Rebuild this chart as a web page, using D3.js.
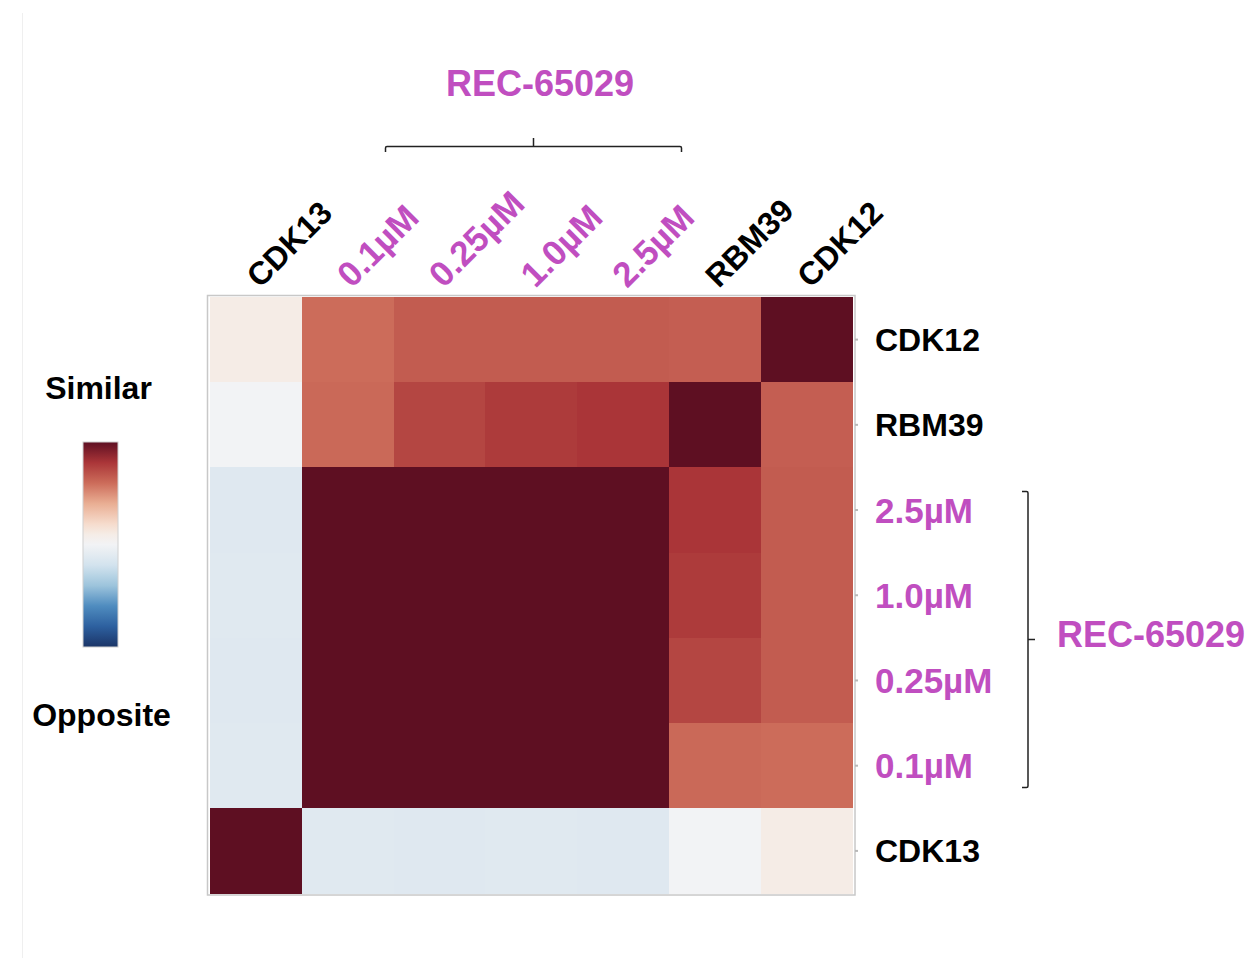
<!DOCTYPE html>
<html>
<head>
<meta charset="utf-8">
<script src="https://d3js.org/d3.v7.min.js"></script>
<style>
  body { margin: 0; background: #ffffff; }
  svg text { font-family: "Liberation Sans", Arial, Helvetica, sans-serif; font-weight: 700; }
</style>
</head>
<body>
<svg id="chart" width="1246" height="958"></svg>
<script>
// Column and row order of the similarity matrix
const colLabels = ["CDK13", "0.1µM", "0.25µM", "1.0µM", "2.5µM", "RBM39", "CDK12"];
const rowLabels = ["CDK12", "RBM39", "2.5µM", "1.0µM", "0.25µM", "0.1µM", "CDK13"];
const doseLabels = ["0.1µM", "0.25µM", "1.0µM", "2.5µM"];
const compoundName = "REC-65029";

// Similarity scores (-1 opposite .. 1 similar), one array per row, columns in colLabels order
const rowCDK12  = [ 0.10, 0.60, 0.66, 0.66, 0.66, 0.65, 1.00];
const rowRBM39  = [ 0.00, 0.61, 0.74, 0.78, 0.80, 1.00, 0.65];
const row2_5uM  = [-0.13, 1.00, 1.00, 1.00, 1.00, 0.80, 0.66];
const row1_0uM  = [-0.12, 1.00, 1.00, 1.00, 1.00, 0.78, 0.66];
const row0_25uM = [-0.13, 1.00, 1.00, 1.00, 1.00, 0.74, 0.66];
const row0_1uM  = [-0.12, 1.00, 1.00, 1.00, 1.00, 0.61, 0.60];
const rowCDK13  = [ 1.00,-0.12,-0.13,-0.12,-0.13, 0.00, 0.10];
const matrixRows = [rowCDK12, rowRBM39, row2_5uM, row1_0uM, row0_25uM, row0_1uM, rowCDK13];

// Legend end labels
const legendTop = "Similar";
const legendBottom = "Opposite";

const PINK = "#c04ec0";
const INK = "#000000";
const labelSize = d => doseLabels.includes(d) ? 35 : 32;
const labelColor = d => doseLabels.includes(d) ? PINK : INK;

const svg = d3.select("#chart");

// Faint page edge on the left
svg.append("line")
  .attr("x1", 22.5).attr("x2", 22.5).attr("y1", 13).attr("y2", 958)
  .attr("stroke", "#efefef").attr("stroke-width", 1);

// Diverging red-blue colour scale
const color = d3.scaleLinear()
  .domain([-1, -0.8, -0.6, -0.4, -0.2, -0.13, 0, 0.1, 0.2, 0.4, 0.6, 0.8, 1])
  .range(["#1b3567", "#2d609f", "#4f8cbf", "#9dc4dc", "#d3e3ee", "#dfe8f0", "#f2f3f5",
          "#f5ece6", "#f6dccd", "#e9ae93", "#cc6c5a", "#aa3538", "#5e0f22"])
  .interpolate(d3.interpolateRgb)
  .clamp(true);

// Heatmap geometry
const gridLeft = 210, gridRight = 852.5, gridTop = 297, gridBottom = 893.5;
const x = d3.scaleBand().domain(colLabels).range([gridLeft, gridRight]).padding(0);
const y = d3.scaleBand().domain(rowLabels).range([gridTop, gridBottom]).padding(0);

const cells = [];
matrixRows.forEach((vals, ri) => {
  vals.forEach((v, ci) => cells.push({ row: rowLabels[ri], col: colLabels[ci], value: v }));
});

svg.append("g").attr("class", "cells")
  .attr("shape-rendering", "crispEdges")
  .selectAll("rect")
  .data(cells)
  .join("rect")
  .attr("x", d => x(d.col))
  .attr("y", d => y(d.row))
  .attr("width", x.bandwidth() + 0.5)
  .attr("height", y.bandwidth() + 0.5)
  .attr("fill", d => color(d.value));

// Frame around the matrix
svg.append("rect")
  .attr("x", gridLeft - 2.5).attr("y", gridTop - 1.5)
  .attr("width", (gridRight - gridLeft) + 5).attr("height", (gridBottom - gridTop) + 3)
  .attr("fill", "none").attr("stroke", "#c8c8c8").attr("stroke-width", 1.5);

// Row labels on the right
const yAxis = d3.axisRight(y).tickSize(3).tickPadding(17);
const gy = svg.append("g").attr("transform", `translate(${gridRight + 2.5},0)`).call(yAxis);
gy.select(".domain").remove();
gy.attr("font-family", null).attr("font-size", null);
gy.selectAll(".tick line").attr("stroke", "#b8b8b8").attr("stroke-width", 2);
gy.selectAll(".tick text")
  .attr("font-size", labelSize)
  .attr("dy", "0.36em")
  .attr("fill", labelColor);

// Column labels on top, rotated 45 degrees and starting near each column centre
svg.append("g").attr("class", "col-labels")
  .selectAll("text")
  .data(colLabels)
  .join("text")
  .attr("transform", d => `translate(${x(d) + x.bandwidth() / 2 + 4},289) rotate(-45)`)
  .attr("font-size", labelSize)
  .attr("fill", labelColor)
  .text(d => d);

// Brackets grouping the compound doses
const bracket = svg.append("g").attr("fill", "none").attr("stroke", "#222").attr("stroke-width", 1.5);
bracket.append("path")
  .attr("d", "M385.5,152 L385.5,148 Q385.5,146.5 387,146.5 L680,146.5 Q681.5,146.5 681.5,148 L681.5,152 M533.5,146.5 L533.5,138");
bracket.append("path")
  .attr("d", "M1022,491.5 L1026.5,491.5 Q1028,491.5 1028,493 L1028,786 Q1028,787.5 1026.5,787.5 L1022,787.5 M1028,639.5 L1035,639.5");

svg.append("text")
  .attr("x", 540).attr("y", 96)
  .attr("text-anchor", "middle")
  .attr("font-size", 36)
  .attr("fill", PINK)
  .text(compoundName);

svg.append("text")
  .attr("x", 1057).attr("y", 647)
  .attr("font-size", 36)
  .attr("fill", PINK)
  .text(compoundName);

// Colour legend
const defs = svg.append("defs");
const grad = defs.append("linearGradient")
  .attr("id", "legend-grad")
  .attr("x1", 0).attr("y1", 0).attr("x2", 0).attr("y2", 1);
d3.range(0, 1.0001, 0.05).forEach(t => {
  grad.append("stop")
    .attr("offset", `${t * 100}%`)
    .attr("stop-color", color(1 - 2 * t));
});

const legendScale = d3.scaleLinear().domain([1, -1]).range([442, 647]);
svg.append("rect")
  .attr("x", 83).attr("y", legendScale(1))
  .attr("width", 35).attr("height", legendScale(-1) - legendScale(1))
  .attr("fill", "url(#legend-grad)")
  .attr("stroke", "#d0d0d0").attr("stroke-width", 1);

svg.append("text")
  .attr("x", 98.5).attr("y", 399)
  .attr("text-anchor", "middle")
  .attr("font-size", 32)
  .attr("fill", INK)
  .text(legendTop);

svg.append("text")
  .attr("x", 101.5).attr("y", 726)
  .attr("text-anchor", "middle")
  .attr("font-size", 32)
  .attr("fill", INK)
  .text(legendBottom);
</script>
</body>
</html>
